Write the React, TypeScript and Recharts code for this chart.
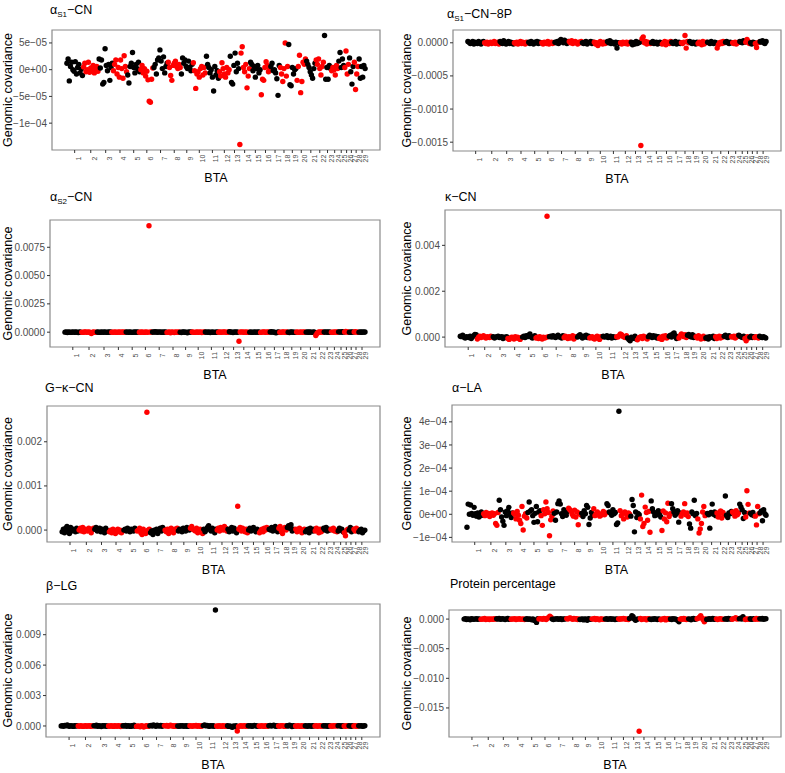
import React from "react";
import { ScatterChart, Scatter, XAxis, YAxis, ReferenceArea } from "recharts";

const FONT = "'Liberation Sans', Arial, Helvetica, sans-serif";

const CHROMS = [1, 2, 3, 4, 5, 6, 7, 8, 9, 10, 11, 12, 13, 14, 15, 16, 17, 18, 19, 20, 21, 22, 23, 24, 25, 26, 27, 28, 29];
// number of windows per chromosome (same for every trait)
const WINDOWS = [14, 13, 12, 12, 11, 11, 12, 11, 10, 11, 11, 9, 8, 9, 9, 8, 8, 7, 7, 8, 8, 7, 6, 6, 5, 4, 4, 4, 6];

// alpha-S1-CN, x1e-6
const aS1CN = [
  [12, 20, -21, 6, 14, 0, -3, 15, -8, 4, 10, -6, 1, -11],
  [5, 12, -4, 0, 14, -5, 3, -2, 8, -6, 1, 6, -3],
  [20, 3, 18, -27, -24, 39, 8, -2, 10, -20, 4, 12],
  [-2, 10, 18, -8, 4, -14, 18, 2, -16, 26, 6, -4],
  [-10, -25, 6, 12, 32, 4, -6, 10, 2, 14, -4],
  [0, 8, -6, 2, -12, -3, -19, -59, -61, -18, 3],
  [4, 10, -8, 18, 22, 37, 16, 2, 24, -6, 6, 12],
  [14, 4, -11, -20, 8, 12, 16, 6, 2, 10, 4],
  [-8, 22, 12, 18, 6, 2, 16, 4, -2, 10],
  [13, -2, -35, -8, -4, -14, 2, 6, -10, 4, -6],
  [25, 10, 4, -6, 0, -14, -40, 6, -10, -2, -16],
  [-4, -12, 13, 2, -8, -14, 4, -6, 0],
  [25, -24, -27, 8, 31, -4, 12, 2],
  [-140, 31, 43, 4, -4, 10, -34, -12, 2],
  [14, 10, -2, 6, -14, 2, 8, -6, 0],
  [-47, -18, -20, 4, 15, 8, -4, 2],
  [6, 12, -2, 0, -6, -17, -48, 8],
  [4, -8, -22, 2, 50, -12, 6],
  [47, -28, -30, 4, -8, 0, 2],
  [-20, 6, 27, -43, -22, 14, 10, 20],
  [16, 10, 4, -4, -10, -16, 2, 12],
  [18, 10, 20, 2, -10, 6, 14],
  [64, -18, 4, -18, 8, 2],
  [-2, 4, 0, -10, 8, 2],
  [16, 32, 4, 20, 8],
  [4, 35, -8, 10],
  [22, -4, -27, 6],
  [14, -37, -8, 6],
  [20, -16, 6, -14, 8, 2],
];

// alpha-S1-CN-8P, x1e-5
const aS1CN8P = [
  [2, 1, -1, 0, 2, -2, 1, 0, -1, 2, 0, -2, 1, 2],
  [0, -1, 1, -2, 0, 1, -1, 0, 2, -1, 0, 1, -2],
  [2, 0, -1, 3, 1, -2, 0, 2, -1, 1, 0, -2],
  [0, -1, 1, -2, 0, 2, -1, 1, 0, -2, 1, 0],
  [1, -1, 2, 0, -2, 1, 0, 2, -1, 1, 0],
  [0, -2, 1, 0, -1, 2, -2, 0, 1, -1, 0],
  [1, 0, 2, -1, 3, 5, 2, 0, 4, 1, -1, 2],
  [2, 0, 3, -1, 1, 2, 0, -2, 1, 0, 2],
  [0, -1, 1, 2, -2, 0, 1, 2, -1, 1],
  [1, -2, 0, -4, -1, 2, 0, -2, 1, -1, 0],
  [2, 0, 3, -1, 1, 0, -2, 1, -8, 0, -1],
  [0, -2, 1, 0, -1, 1, -2, 0, 1],
  [1, -3, 0, -2, 2, -1, 0, 1],
  [-155, 6, 9, 0, 2, -2, 1, 0, -1],
  [0, 2, -1, 0, 1, -2, 0, 1, -1],
  [-2, 0, 2, -3, 1, 0, -1, 2],
  [1, -1, 0, 2, -2, 0, 1, -1],
  [0, -1, 1, 11, -8, 2, 0],
  [2, 0, -1, 1, 0, -2, 1],
  [-1, 1, 0, -3, 2, -2, 0, 1],
  [1, 0, -1, 2, 0, -1, 1, 0],
  [-8, -3, 0, 1, -1, 2, 0],
  [1, 2, 0, -1, 1, 0],
  [0, -1, 1, -2, 0, 1],
  [2, 1, 0, 3, 1],
  [1, 5, 2, -1],
  [0, -2, 1, 0],
  [-1, -7, 0, 1],
  [2, 1, 3, 0, -1, 2],
];

// alpha-S2-CN, x1e-5
const aS2CN = [
  [0, 2, -3, 1, 0, -2, 3, 0, -1, 2, 0, -4, 1, 0],
  [0, -2, 1, 3, -1, 0, 2, -3, -12, 0, 1, -2, 0],
  [1, 0, -2, 2, 0, -1, 3, 0, -2, 1, 0, 2],
  [0, -1, 0, 2, -2, 0, 1, -1, 0, 2, -1, 0],
  [2, 0, -1, 1, 0, -2, 0, 1, -1, 2, 0],
  [0, -1, 1, 0, -2, 1, 0, -1, 940, 2, 0],
  [2, 0, 4, 1, -1, 3, 0, 2, -2, 1, 0, 2],
  [-2, 0, 3, -6, 1, 0, -3, 2, 0, -1, 1],
  [0, -3, 1, 2, -1, 0, -5, 1, 0, 2],
  [1, 0, -2, 0, 2, -1, 0, 1, -3, 0, 1],
  [2, 0, -1, 1, -3, 0, 2, -2, 0, -1, 1],
  [0, 2, -1, 0, 1, 3, 0, -2, 1],
  [4, 2, 0, -3, 1, 0, 2, -1],
  [-80, 2, 0, 3, -1, 0, 1, -2, 0],
  [0, 1, -2, 0, 2, -1, 0, 1, 0],
  [-2, 0, 3, 1, -1, 0, 2, 0],
  [2, 4, 0, 1, -3, -5, 0, 2],
  [0, -2, 3, 1, 0, -1, 2],
  [0, -3, 1, 2, -1, 0, -2],
  [1, 0, -2, 2, 0, -1, 1, 0],
  [0, 2, -1, 1, 0, -2, 1, 0],
  [-30, -12, 0, 2, -1, 1, 0],
  [2, 0, 3, -1, 1, 0],
  [0, -2, 1, 0, 2, -1],
  [3, 1, 0, 4, 0],
  [2, 6, 0, 1],
  [0, -1, 2, 0],
  [1, 5, 0, -1],
  [0, 2, -1, 1, 0, 2],
];

// kappa-CN, x1e-5
const kCN = [
  [4, 2, 8, 0, -4, 2, 0, -2, 4, -6, 2, 6, 12, 10],
  [-8, 0, 4, -2, 2, 6, 0, -4, 2, 0, -2, 4, 0],
  [2, -4, 0, 2, 4, -2, 0, 2, -6, 0, -2, 2],
  [-6, -10, -4, 0, -2, -8, 2, -4, 0, -6, -10, -2],
  [0, 4, -2, 6, 2, 8, 14, 0, -4, 2, 6],
  [-4, 0, -6, 2, -2, -8, 0, -4, -2, 527, 2],
  [2, 4, 0, 6, 2, -2, 4, 8, 0, 2, -4, 6],
  [-2, 4, 0, -6, 2, -4, 0, 6, -8, 0, 2],
  [0, 6, 10, 2, -4, 4, 0, 8, -2, 4],
  [-4, 0, 2, -6, -8, 0, 4, -2, -10, 2, 0],
  [4, 0, 2, 6, -2, 0, 4, -4, 2, 0, -2],
  [2, 0, 6, 14, 10, 4, 0, -2, 6],
  [-4, -10, -16, 0, -6, -2, 4, -8],
  [-12, -4, 0, 2, -6, 4, -2, 0, -8],
  [2, 8, 4, -2, 6, 0, 4, -4, 2],
  [-6, 0, -10, 4, -2, 6, -4, 0],
  [4, 8, 0, 14, 18, 6, -6, 2],
  [-4, 6, 14, 8, 2, 10, -2],
  [8, 12, 4, 0, 10, -2, 4],
  [2, -4, 6, 0, -8, -2, 4, -6],
  [-4, 0, -8, 2, -2, 0, 4, -6],
  [2, -6, 0, 4, -4, 2, 0],
  [4, 8, 0, -2, 6, 2],
  [2, 0, 4, -4, 0, 6],
  [8, 4, 0, -2, 4],
  [-6, -16, 2, -4],
  [0, 4, -2, 2],
  [-2, 2, 0, -4],
  [4, 0, -2, 2, 0, -4],
];

// glyco-kappa-CN, x1e-5
const GkCN = [
  [-4, 2, -6, 4, 8, 0, -8, 6, -2, 2, 0, -4, 4, -2],
  [0, 4, -2, 6, -4, 2, 0, -2, 4, 0, -6, 2, 4],
  [2, 6, -2, 0, 4, -4, 2, 0, -6, 4, 0, -2],
  [-4, 0, -6, 2, -2, -8, 0, 2, -4, 0, -6, -2],
  [0, 2, -2, 4, 0, -4, 2, 0, -2, 4, 0],
  [-2, 0, 4, -6, -10, 2, -4, -8, 267, 0, 2],
  [-6, -2, -10, 0, -4, 2, -8, 0, 4, -2, 6, 2],
  [0, -4, 2, -8, -2, 4, 0, -6, 2, 0, 4],
  [-2, 2, 0, -4, 4, 0, -2, 6, 2, 0],
  [4, 8, 2, 0, -2, 4, -6, 0, 2, -4, -8],
  [2, -4, 0, 6, 10, 2, -2, 4, 0, -6, 2],
  [0, 4, -2, 6, 2, 0, 8, 4, -2],
  [2, -4, 0, 6, -2, 4, 0, -6],
  [54, 2, 6, -2, 4, 0, -4, 2, -6],
  [0, 4, -2, 2, 6, 0, -4, 2, 0],
  [-6, -2, 2, -4, 4, 0, 6, 2],
  [2, 0, 6, -2, 4, 8, 0, -4],
  [4, 8, -2, -8, 2, 6, 0],
  [6, 10, 4, 12, -2, 2, 0],
  [2, -4, 0, 4, -2, -6, 0, 2],
  [-4, 0, 2, -6, 4, 0, -2, 2],
  [-2, 4, 0, -6, 2, -4, 0],
  [4, 0, 6, -2, 2, 0],
  [2, 0, 4, -2, 0, -4],
  [-2, 4, 0, 2, -4],
  [-6, -13, 0, 2],
  [0, 6, -4, 2],
  [2, -2, 4, 0],
  [-4, 0, 2, -6, -2, 0],
];

// alpha-LA, x1e-6
const aLA = [
  [-56, 44, 0, 40, 4, -4, 30, 2, -8, 6, -12, -6, 10, -4],
  [2, -6, 8, -2, 4, -10, 0, 6, -4, 2, -40, -48, 8],
  [61, 20, -12, -30, -48, 10, -6, 16, 30, 4, -14, 6],
  [6, 0, -20, 12, -4, -26, -40, 34, -68, -8, 2, -16],
  [8, 53, 14, 20, -6, -35, 4, 34, -32, 10, 16],
  [-6, -48, 20, 2, 53, 24, 8, -93, -24, -8, 14],
  [4, -26, 10, 46, 58, 44, 2, -10, 20, 6, -4, 12],
  [26, 20, 14, 0, -8, 18, -12, 10, -45, 4, -2],
  [4, -10, 16, 2, 38, 30, -44, -16, 8, -4],
  [24, -6, 2, 10, 0, -8, -4, 4, 12, -2, 6],
  [46, 38, 10, 4, -4, 20, 2, 8, -44, -38, 446],
  [16, -6, 4, -20, 10, 2, -12, 6, 0],
  [-8, 64, 38, -76, 10, -14, 4, -2],
  [-20, 83, -53, -40, 31, 8, -26, 12, -78],
  [58, 24, 10, -6, 4, -2, 16, 0, -12],
  [-70, 14, -20, 6, -32, 48, -10, 2],
  [46, 24, 10, -4, 2, 16, -34, 6],
  [-8, 4, 10, 46, -2, 6, -10],
  [-42, -60, 10, 2, 61, -6, 4],
  [-20, -81, -64, -40, 10, 34, -6, 2],
  [4, -2, -60, 8, 44, 0, 10, -6],
  [6, -12, 2, 14, -16, 8, -4],
  [79, -4, -14, 6, 2, 12],
  [10, 4, -8, 16, -2, 6],
  [44, 32, 20, -18, 8],
  [-12, 102, 43, 6],
  [4, -2, 8, -6],
  [-8, -46, 34, 2],
  [6, 14, -28, 20, 2, -4],
];

// beta-LG, x1e-5
const bLG = [
  [0, 4, -2, 6, 2, 10, 0, -2, 4, 0, -4, 2, 0, 2],
  [0, -2, 2, 0, -4, 0, 2, -2, 0, 2, -2, 0, 0],
  [4, 0, 8, -2, 2, 0, -6, 2, 0, 4, -2, 0],
  [0, -2, 2, 0, -4, 2, 0, -2, 4, 0, -6, 2],
  [2, 0, 6, -2, 4, 0, -4, 2, 0, 8, -2],
  [-4, 0, -2, -8, 2, 0, -10, -4, 2, 0, -2],
  [2, 6, 0, 10, 4, -2, 8, 2, 0, 6, -2, 4],
  [4, 0, 6, -2, 2, 8, 0, 4, -4, 2, 0],
  [0, -2, 2, 0, 4, -2, 0, 2, -4, 0],
  [2, 0, -2, 4, 0, 6, -2, 2, 0, -4, 2],
  [4, 10, 2, 6, 0, -2, 4, 0, 2, -2, 1143],
  [0, -2, 2, 0, -4, 2, 0, -2, 0],
  [2, -4, 0, -8, -12, 0, -6, 2],
  [-49, -4, 0, 2, -2, 0, 4, -2, 0],
  [2, 0, 4, -2, 0, 6, 2, 0, -2],
  [0, -2, 4, 0, -4, 2, 0, -2],
  [2, 6, 0, 4, 8, 0, -2, 2],
  [0, -2, 2, 4, 0, -4, 2],
  [2, 0, 8, 4, -6, 2, 0],
  [0, -2, 2, 0, -4, 2, 0, -2],
  [2, 0, -2, 4, 0, -2, 2, 0],
  [0, 2, -2, 0, 4, -2, 0],
  [2, 0, 4, -2, 0, 2],
  [0, -2, 2, 0, 4, 0],
  [2, 4, 0, -2, 2],
  [0, -2, 2, 0],
  [2, 0, -2, 2],
  [0, 2, -2, 0],
  [2, 0, 4, -2, 0, 2],
];

// protein percentage, x1e-5
const proteinPct = [
  [0, 8, -6, 4, 0, -10, 6, 2, -4, 0, 8, -2, 4, 0],
  [-4, 2, 0, 10, -6, 0, 4, -8, 2, 0, -2, 6, 0],
  [6, 0, 12, -4, 2, 8, 0, -6, 4, 10, -2, 0],
  [-2, 4, 0, 8, -6, 2, 0, 6, -4, 0, 2, -8],
  [0, 6, -4, 2, 0, -10, 4, -20, -30, -56, 8],
  [2, 8, 4, -4, 10, 6, -8, 14, 24, 50, 30],
  [0, -6, 4, 0, 8, -2, 0, 6, -8, 2, 0, 4],
  [8, 0, 14, 20, 4, -4, 10, 0, 6, -6, 2],
  [-6, 0, 4, -14, 2, 0, -20, 6, 0, -4],
  [4, 0, 12, -6, 8, 0, -10, 4, 2, -4, 0],
  [0, 6, -4, 0, 8, -2, 4, 0, -6, 2, 0],
  [4, -2, 8, 0, 12, 6, -4, 2, -6],
  [10, 20, 56, 40, 0, -20, -6, 4],
  [-1893, 10, -6, 4, 0, 8, -10, 2, 6],
  [0, -6, 4, -2, 8, 0, -8, 2, 0],
  [-10, 4, 0, 12, -14, 2, 6, -4],
  [2, -6, 8, 0, 4, -10, -20, -45],
  [0, 6, -4, 10, 2, -8, 0],
  [4, 0, -10, 6, 12, -4, 0],
  [6, 16, 30, 56, 20, -10, -45, 4],
  [-8, 0, 6, -4, 2, 10, -2, 0],
  [4, -6, 0, 8, 2, -4, 0],
  [0, 6, -2, 10, 4, 0],
  [-4, 6, 12, 24, 0, 8],
  [4, 16, 0, 40, 6],
  [-8, 4, 0, -4],
  [6, -2, 0, 8],
  [-4, 10, 2, 0],
  [8, 0, 12, -2, 4, 6],
];

// y tick values and their labels
const aS1CN_ticks = [5e-5, 0, -5e-5, -1e-4];
const aS1CN_labels = ["5e\u221205", "0e+00", "\u22125e\u221205", "\u22121e\u221204"];
const aS1CN8P_ticks = [0, -0.0005, -0.001, -0.0015];
const aS1CN8P_labels = ["0.0000", "\u22120.0005", "\u22120.0010", "\u22120.0015"];
const aS2CN_ticks = [0, 0.0025, 0.005, 0.0075];
const aS2CN_labels = ["0.0000", "0.0025", "0.0050", "0.0075"];
const kCN_ticks = [0, 0.002, 0.004];
const kCN_labels = ["0.000", "0.002", "0.004"];
const GkCN_ticks = [0, 0.001, 0.002];
const GkCN_labels = ["0.000", "0.001", "0.002"];
const aLA_ticks = [-1e-4, 0, 1e-4, 2e-4, 3e-4, 4e-4];
const aLA_labels = ["\u22121e\u221204", "0e+00", "1e\u221204", "2e\u221204", "3e\u221204", "4e\u221204"];
const bLG_ticks = [0, 0.003, 0.006, 0.009];
const bLG_labels = ["0.000", "0.003", "0.006", "0.009"];
const proteinPct_ticks = [0, -0.005, -0.01, -0.015];
const proteinPct_labels = ["0.000", "\u22120.005", "\u22120.010", "\u22120.015"];

// x ticks at the middle window of each chromosome
const xTicks: number[] = [];
let nWin = 0;
WINDOWS.forEach((n) => {
  xTicks.push(nWin + (n - 1) / 2);
  nWin += n;
});
const X_DOMAIN = [-(nWin - 1) * 0.05, (nWin - 1) * 1.05];

const toSeries = (values: number[][], unit: number) => {
  let idx = 0;
  return values.map((chr, c) => chr.map((v) => ({ x: idx++, y: v * unit, chr: CHROMS[c] })));
};

const ChromTick = (props: any) => {
  const { x, y, payload } = props;
  const i = xTicks.indexOf(payload.value);
  const tx = x + 3.5;
  const ty = y + 3.5;
  return (
    <text x={tx} y={ty} transform={`rotate(-90 ${tx} ${ty})`} textAnchor="middle" dominantBaseline="central" fontSize={7} fill="#4d4d4d">
      {CHROMS[i]}
    </text>
  );
};

const sub = (s: string) => (
  <sub style={{ fontSize: 8, verticalAlign: "baseline", position: "relative", top: 3 }}>{s}</sub>
);

const PANELS = [
  { title: <>α{sub("S1")}−CN</>, values: aS1CN, unit: 1e-6, ticks: aS1CN_ticks, labels: aS1CN_labels,
    colX: 0, rowTop: 0, box: { l: 52, r: 380, t: 30, b: 150 }, titleX: 50, titleY: 10, yTitleX: 8 },
  { title: <>α{sub("S1")}−CN−8P</>, values: aS1CN8P, unit: 1e-5, ticks: aS1CN8P_ticks, labels: aS1CN8P_labels,
    colX: 390, rowTop: 0, box: { l: 453, r: 781, t: 30, b: 151 }, titleX: 447, titleY: 14, yTitleX: 407 },
  { title: <>α{sub("S2")}−CN</>, values: aS2CN, unit: 1e-5, ticks: aS2CN_ticks, labels: aS2CN_labels,
    colX: 0, rowTop: 195, box: { l: 50, r: 380, t: 220, b: 347 }, titleX: 50, titleY: 197, yTitleX: 8 },
  { title: <>κ−CN</>, values: kCN, unit: 1e-5, ticks: kCN_ticks, labels: kCN_labels,
    colX: 390, rowTop: 195, box: { l: 445, r: 781, t: 210, b: 347 }, titleX: 445, titleY: 197, yTitleX: 407 },
  { title: <>G−κ−CN</>, values: GkCN, unit: 1e-5, ticks: GkCN_ticks, labels: GkCN_labels,
    colX: 0, rowTop: 390, box: { l: 47, r: 380, t: 406, b: 542 }, titleX: 45, titleY: 388, yTitleX: 8 },
  { title: <>α−LA</>, values: aLA, unit: 1e-6, ticks: aLA_ticks, labels: aLA_labels,
    colX: 390, rowTop: 390, box: { l: 452, r: 781, t: 405, b: 542 }, titleX: 452, titleY: 388, yTitleX: 407 },
  { title: <>β−LG</>, values: bLG, unit: 1e-5, ticks: bLG_ticks, labels: bLG_labels,
    colX: 0, rowTop: 580, box: { l: 46, r: 380, t: 604, b: 737 }, titleX: 46, titleY: 586, yTitleX: 8 },
  { title: <>Protein percentage</>, values: proteinPct, unit: 1e-5, ticks: proteinPct_ticks, labels: proteinPct_labels,
    colX: 390, rowTop: 580, box: { l: 449, r: 781, t: 610, b: 737 }, titleX: 450, titleY: 584, yTitleX: 407 },
];

const Panel = ({ cfg }: { cfg: any }) => {
  const series = toSeries(cfg.values, cfg.unit);
  const ys = series.flat().map((p) => p.y);
  const lo = Math.min(...ys);
  const hi = Math.max(...ys);
  const pad = (hi - lo) * 0.05;
  const yDomain = [lo - pad, hi + pad];
  const { colX, rowTop, box } = cfg;
  const width = box.r - colX + 4;
  const height = box.b - rowTop + 40;
  const fmt = (v: number) => {
    const i = cfg.ticks.findIndex((t: number) => Math.abs(t - v) < 1e-12);
    return i >= 0 ? cfg.labels[i] : "";
  };

  return (
    <>
      <div style={{ position: "absolute", left: cfg.titleX, top: cfg.titleY - 7, fontSize: 12.5, lineHeight: "14px", whiteSpace: "nowrap" }}>
        {cfg.title}
      </div>
      <div style={{ position: "absolute", left: colX, top: rowTop }}>
        <ScatterChart width={width} height={height} margin={{ top: box.t - rowTop, right: 4, bottom: 0, left: 0 }}>
          <XAxis
            type="number"
            dataKey="x"
            domain={X_DOMAIN}
            ticks={xTicks}
            interval={0}
            allowDataOverflow
            tick={<ChromTick />}
            tickSize={3}
            tickLine={{ stroke: "#333" }}
            axisLine={false}
            height={40}
            label={{ value: "BTA", position: "insideBottom", offset: 8, fontSize: 12.5, fill: "#000" }}
          />
          <YAxis
            type="number"
            dataKey="y"
            domain={yDomain}
            ticks={cfg.ticks}
            interval={0}
            allowDataOverflow
            width={box.l - colX}
            tickFormatter={fmt}
            tick={{ fontSize: 10, fill: "#4d4d4d" }}
            tickSize={3}
            tickMargin={2}
            tickLine={{ stroke: "#333" }}
            axisLine={false}
            label={{
              value: "Genomic covariance",
              angle: -90,
              position: "insideLeft",
              offset: cfg.yTitleX - colX,
              fontSize: 12.5,
              fill: "#000",
              style: { textAnchor: "middle" },
            }}
          />
          <ReferenceArea x1={X_DOMAIN[0]} x2={X_DOMAIN[1]} y1={yDomain[0]} y2={yDomain[1]} fill="none" stroke="#8a8a8a" strokeWidth={1.2} ifOverflow="visible" />
          {series.map((pts, c) => {
            const color = c % 2 === 0 ? "#000000" : "#ff0000";
            return (
              <Scatter
                key={c}
                data={pts}
                isAnimationActive={false}
                shape={(p: any) => <circle cx={p.cx} cy={p.cy} r={2.7} fill={color} />}
              />
            );
          })}
        </ScatterChart>
      </div>
    </>
  );
};

const App = () => (
  <div style={{ position: "absolute", left: 0, top: 0, width: 785, height: 773, background: "#fff", fontFamily: FONT, color: "#000" }}>
    {PANELS.map((cfg, i) => (
      <Panel key={i} cfg={cfg} />
    ))}
  </div>
);

export default App;
